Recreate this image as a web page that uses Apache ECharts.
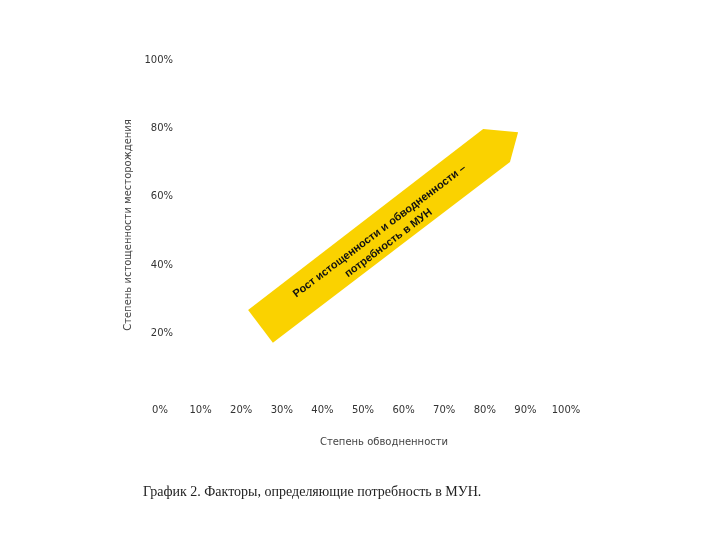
<!DOCTYPE html>
<html>
<head>
<meta charset="utf-8">
<script src="https://cdn.jsdelivr.net/npm/echarts@6/dist/echarts.min.js"></script>
<style>html,body{margin:0;padding:0;background:#fff}#c{width:720px;height:540px}</style>
</head>
<body>
<div id="c"></div>
<script>
// Axis tick values (percent)
const xTicks = [0, 10, 20, 30, 40, 50, 60, 70, 80, 90, 100];
const yTicks = [0, 20, 40, 60, 80, 100];
// Arrow band vertices in data coordinates (x: обводненность %, y: истощенность %)
const arrowX = [21.7, 79.6, 88.2, 86.2, 27.8];
const arrowY = [26.9, 79.8, 78.9, 70.2, 17.3];
// Arrow label anchor (data coordinates) and text
const labelPoint = [55.2, 48.2];
const arrowText = 'Рост истощенности и обводненности –\nпотребность в МУН';
const xTitle = 'Степень обводненности';
const yTitle = 'Степень истощенности месторождения';
const caption = 'График 2. Факторы, определяющие потребность в МУН.';

const chart = echarts.init(document.getElementById('c'));
chart.setOption({
  backgroundColor: '#ffffff',
  animation: false,
  title: {
    text: caption,
    left: 138, top: 480,
    textStyle: { fontFamily: 'Liberation Serif', fontSize: 14, fontWeight: 'normal', color: '#222' }
  },
  grid: { left: 160, right: 154, top: 60, bottom: 138 },
  xAxis: {
    type: 'value', min: 0, max: 100, interval: 10,
    axisLine: { show: false }, axisTick: { show: false }, splitLine: { show: false },
    axisLabel: { margin: 3, fontFamily: 'DejaVu Sans', fontSize: 10, color: '#333', formatter: v => v + '%' },
    name: xTitle, nameLocation: 'middle', nameGap: 35,
    nameTextStyle: { fontFamily: 'DejaVu Sans', fontSize: 10, color: '#444', padding: [0, 0, 0, 42] }
  },
  yAxis: {
    type: 'value', min: 0, max: 100, interval: 20,
    axisLine: { show: false }, axisTick: { show: false }, splitLine: { show: false },
    axisLabel: { margin: -13, fontFamily: 'DejaVu Sans', fontSize: 10, color: '#333',
      formatter: v => v === 0 ? '' : v + '%' },
    name: yTitle, nameLocation: 'middle', nameGap: 27,
    nameTextStyle: { fontFamily: 'DejaVu Sans', fontSize: 10, color: '#444', padding: [0, 0, 0, 12] }
  },
  series: [{
    type: 'custom',
    clip: false,
    data: [[labelPoint[0], labelPoint[1]]],
    renderItem: function (params, api) {
      const pts = arrowX.map((x, i) => api.coord([x, arrowY[i]]));
      const c = api.coord(labelPoint);
      return {
        type: 'group',
        children: [
          { type: 'polygon', shape: { points: pts }, style: { fill: '#FAD200' } },
          { type: 'text', x: c[0], y: c[1], rotation: 37 * Math.PI / 180,
            style: { text: arrowText, fill: '#111', font: 'bold 11px "Liberation Sans"',
              align: 'center', verticalAlign: 'middle', lineHeight: 15 } }
        ]
      };
    }
  }]
});
</script>
</body>
</html>
